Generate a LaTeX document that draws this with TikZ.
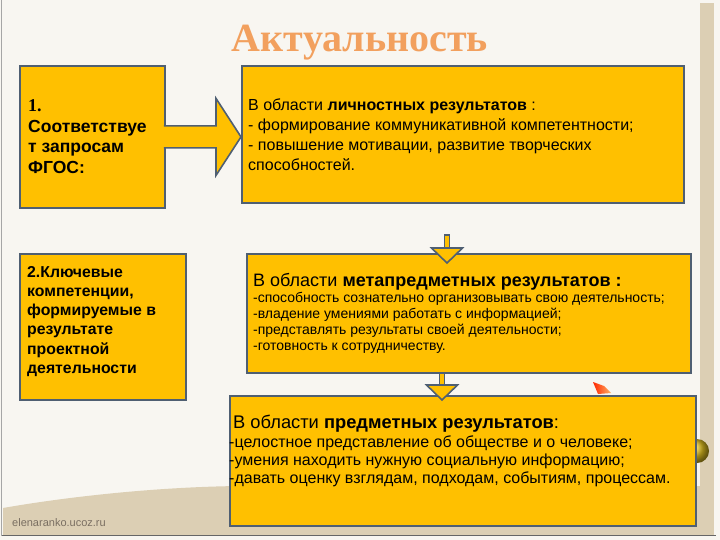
\documentclass[tikz,border=0pt]{standalone}
\usepackage{fontspec}
\setmainfont{Liberation Sans}
\newfontfamily\serifttl{Liberation Serif}
\usetikzlibrary{calc}
\definecolor{boxfill}{HTML}{FFC000}
\definecolor{boxline}{HTML}{4F5F72}
\definecolor{paper}{HTML}{F8F6F1}
\definecolor{beige}{HTML}{DCCFB4}
\definecolor{titlecol}{HTML}{F2A05E}
\definecolor{wmark}{HTML}{7A6F62}
\newcommand\txtblock[3]{\fontsize{#1}{#2}\selectfont\begin{tabular}[t]{@{}l@{}}#3\end{tabular}}
\begin{document}
\begin{tikzpicture}[x=1pt,y=-1pt,
  box/.style={draw=boxline, line width=1.8pt, fill=boxfill, inner sep=0pt, anchor=north west},
  txt/.style={anchor=base west, inner sep=0pt, text=black},
  arrowshape/.style={draw=boxline, line width=1.6pt, fill=boxfill, line join=miter}]
\useasboundingbox (0,0) rectangle (720,540);
% background
\fill[paper] (0,0) rectangle (720,540);
\fill[beige] (700,3) rectangle (714,535);
\fill[beige] (3,508) .. controls (60,498) and (150,487) .. (240,486) -- (700,486) -- (714,535) -- (3,535) -- cycle;
\draw[gray!70, line width=1.2pt] (1.5,0) -- (1.5,536);
\draw[gray!80!black, line width=1.5pt] (2,535.5) -- (716,535.5);
% decorations
\shade[left color=red!70!orange, right color=orange!60] (593,382) -- (604,386) -- (611,393) -- (598,394) -- cycle;
\shade[ball color=yellow!50!brown] (697,451) circle (12);
% title
\node[text=titlecol, font=\serifttl\bfseries\fontsize{40}{40}\selectfont, anchor=base] (title) at (360,52) {Актуальность};
% boxes
\node[box, minimum width=145, minimum height=142] (b1) at (19,65) {};
\node[box, minimum width=442, minimum height=137] (b2) at (241,65) {};
\node[box, minimum width=166, minimum height=146] (b3) at (19,253) {};
\node[box, minimum width=444, minimum height=119] (b4) at (246,253) {};
\node[box, minimum width=466, minimum height=130] (b5) at (229,395) {};
% block arrow b1 -> b2
\coordinate (tip) at (b1.east -| b2.west);
\filldraw[arrowshape] ($(b1.east)+(-2,-11)$) -- ($(tip)+(-25,-11)$) -- ($(tip)+(-25,-38.5)$) -- (tip)
  -- ($(tip)+(-25,38.5)$) -- ($(tip)+(-25,11)$) -- ($(b1.east)+(-2,11)$);
% down arrow b2 -> b4
\coordinate (a1s) at (447,235);
\coordinate (a1t) at (447,263);
\filldraw[arrowshape, line width=1.2pt] ($(a1s)+(-2.5,0)$) rectangle ($(a1t)+(2.5,-15)$);
\filldraw[arrowshape] ($(a1t)+(-15.5,-15)$) -- ($(a1t)+(15.5,-15)$) -- (a1t) -- cycle;
% down arrow b4 -> b5
\coordinate (a2s) at (b4.south -| 442,0);
\coordinate (a2t) at (442,400);
\filldraw[arrowshape, line width=1.2pt] ($(a2s)+(-2.5,0)$) rectangle ($(a2t)+(2.5,-15)$);
\filldraw[arrowshape] ($(a2t)+(-15.5,-15)$) -- ($(a2t)+(15.5,-15)$) -- (a2t) -- cycle;
% texts
\node[txt] (t1) at (28,111.7) {\txtblock{17.5}{20.6}{{\serifttl\bfseries\fontsize{18}{18}\selectfont 1.}\\ \bfseries Соответствуе\\ \bfseries т запросам\\ \bfseries ФГОС:}};
\node[txt] (t2) at (248,111) {\txtblock{16}{19.7}{В области \textbf{личностных результатов} :\\ - формирование коммуникативной компетентности;\\ - повышение мотивации, развитие творческих\\ способностей.}};
\node[txt] (t3) at (27,277.3) {\txtblock{15.8}{19.2}{\bfseries 2.Ключевые\\ \bfseries компетенции,\\ \bfseries формируемые в\\ \bfseries результате\\ \bfseries проектной\\ \bfseries деятельности}};
\node[txt] (t4h) at (253,286) {\fontsize{18}{18}\selectfont В области \textbf{метапредметных результатов :}};
\node[txt] (t4) at (253,302.7) {\txtblock{14}{15.8}{-способность сознательно организовывать свою деятельность;\\ -владение умениями работать с информацией;\\ -представлять результаты своей деятельности;\\ -готовность к сотрудничеству.}};
\node[txt] (t5h) at (233,428.3) {\fontsize{18.3}{18.3}\selectfont В области \textbf{предметных результатов}:};
\node[txt] (t5) at (229,447.3) {\txtblock{16}{18.3}{-целостное представление об обществе и о человеке;\\ -умения находить нужную социальную информацию;\\ -давать оценку взглядам, подходам, событиям, процессам.}};
\node[txt, text=wmark, font=\fontsize{11}{11}\selectfont] (wm) at (12,526) {elenaranko.ucoz.ru};
\end{tikzpicture}
\end{document}
